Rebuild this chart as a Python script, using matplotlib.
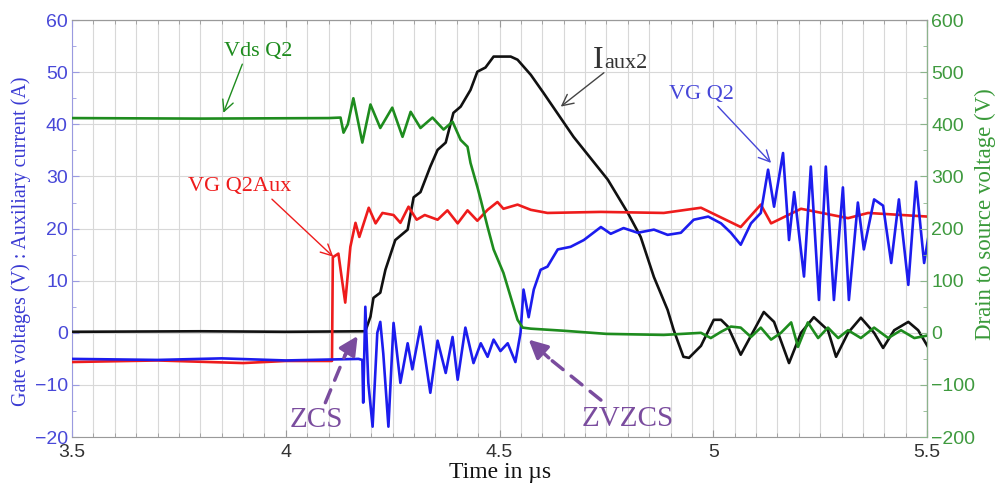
import matplotlib
matplotlib.use("Agg")
import matplotlib.pyplot as plt
from matplotlib.ticker import MultipleLocator

# ---------------- data ----------------
# Vds Q2 (right axis, V)
vds_t = [3.5, 3.8, 4.10, 4.128, 4.135, 4.145, 4.158, 4.179, 4.198, 4.221, 4.249, 4.273, 4.292,
         4.315, 4.343, 4.369, 4.390, 4.409, 4.425, 4.432, 4.448, 4.456, 4.472, 4.486, 4.509,
         4.542, 4.554, 4.573, 4.65, 4.75, 4.884, 4.971, 4.994, 5.018, 5.041, 5.064, 5.088, 5.111,
         5.135, 5.158, 5.182, 5.198, 5.221, 5.245, 5.268, 5.292, 5.315, 5.345, 5.376, 5.409,
         5.439, 5.470, 5.502]
vds_v = [412, 411, 412, 413, 384, 400, 450, 365, 438, 393, 432, 376, 424,
         393, 413, 390, 405, 370, 357, 326, 280, 255, 203, 160, 115,
         25, 10, 8, 4, -2, -4, 0, -10, 2, 12, 10, -8, 10,
         -13, 0, 20, -27, 20, -10, 10, -10, 5, -10, 10, -10,
         5, -10, -5]

# Iaux2 (left axis, A)
iaux_t = [3.5, 3.8, 4.0, 4.186, 4.198, 4.205, 4.221, 4.233, 4.256, 4.285, 4.299, 4.315, 4.338,
          4.355, 4.374, 4.392, 4.409, 4.432, 4.448, 4.467, 4.486, 4.526, 4.542, 4.573, 4.603,
          4.673, 4.753, 4.800, 4.830, 4.861, 4.893, 4.907, 4.930, 4.943, 4.971, 5.001, 5.018,
          5.034, 5.064, 5.095, 5.118, 5.142, 5.177, 5.205, 5.235, 5.268, 5.287, 5.315, 5.345,
          5.376, 5.397, 5.423, 5.456, 5.479, 5.502]
iaux_a = [0.2, 0.3, 0.2, 0.3, 3.1, 6.7, 7.7, 12.1, 17.8, 19.8, 26, 27, 31.9,
          35.1, 36.5, 42.2, 43.4, 46.6, 50.1, 50.9, 53, 53, 52.4, 49.5, 46,
          37.6, 29.4, 23, 18.4, 10.7, 4.4, 0.6, -4.6, -4.8, -2.5, 2.5, 2.5,
          1.2, -4.2, 0.5, 4, 2.1, -5.8, 0, 3, 0.5, -4.6, 0, 2.9,
          0, -2.9, 0.5, 2.1, 0.5, -2.7]

# VG Q2Aux (left axis, V)
vgaux_t = [3.5, 3.7, 3.9, 4.0, 4.108, 4.110, 4.123, 4.130, 4.139, 4.151, 4.163, 4.172, 4.194,
           4.210, 4.226, 4.252, 4.268, 4.287, 4.306, 4.325, 4.355, 4.378, 4.402, 4.425, 4.448,
           4.472, 4.495, 4.509, 4.542, 4.573, 4.612, 4.737, 4.884, 4.971, 5.064, 5.111, 5.135,
           5.205, 5.315, 5.362, 5.502]
vgaux_v = [-5.6, -5.3, -5.8, -5.4, -5.4, 14.5, 15.2, 11, 5.8, 16.5, 21.1, 18.4, 24,
           21, 23, 22.6, 21.1, 24.2, 21.7, 22.6, 21.7, 23.5, 21, 23.5, 21.5,
           23.6, 25.1, 23.8, 24.6, 23.6, 23, 23.2, 23, 24, 20.3, 24.6, 21,
           23.8, 22, 23, 22.3]

# VG Q2 (left axis, V)
vg_t = [3.5, 3.7, 3.85, 4.0, 4.17, 4.179, 4.181, 4.186, 4.193, 4.203, 4.214, 4.221, 4.228,
        4.240, 4.252, 4.268, 4.285, 4.296, 4.315, 4.338, 4.355, 4.374, 4.390, 4.402, 4.420,
        4.439, 4.456, 4.472, 4.486, 4.502, 4.519, 4.537, 4.549, 4.556, 4.568, 4.580, 4.596,
        4.612, 4.636, 4.666, 4.697, 4.737, 4.760, 4.790, 4.823, 4.861, 4.893, 4.924, 4.954,
        4.988, 5.018, 5.041, 5.064, 5.088, 5.111, 5.128, 5.142, 5.163, 5.177, 5.189, 5.212,
        5.228, 5.247, 5.263, 5.282, 5.303, 5.317, 5.338, 5.352, 5.376, 5.397, 5.416, 5.434,
        5.456, 5.474, 5.493, 5.502]
vg_v = [-5.0, -5.2, -4.9, -5.3, -5.0, -5.2, -13.4, 5, -9.6, -18, 0, 2.1, -4,
        -18, 1.9, -9.6, -2, -7, 1.2, -11.5, -1.5, -7.7, -0.8, -9, 1,
        -5.8, -2, -4.6, -1.3, -3.5, -2, -5.6, 0, 8.3, 3, 8.3, 12.1,
        12.7, 16, 16.5, 17.8, 20.3, 19, 20.1, 19.2, 19.8, 18.8, 19.2, 21.7,
        22.3, 21, 19.2, 16.9, 21, 23, 31.3, 24.2, 34.5, 17.8, 27, 10.8,
        31.9, 6.3, 31.9, 6.3, 27.9, 6.3, 25, 16, 25.6, 24.4, 13.4, 25.6,
        9.2, 29, 13.4, 18]

x_ticks = [3.5, 4, 4.5, 5, 5.5]
x_tick_labels = ["3.5", "4", "4.5", "5", "5.5"]

# ---------------- style ----------------
SERIF = ["Liberation Serif", "DejaVu Serif"]
SANS = ["Liberation Sans", "DejaVu Sans"]
C_GREEN = "#1e8c1e"
C_BLACK = "#111111"
C_RED = "#ee1c1c"
C_BLUE = "#1c1cee"
C_PURPLE = "#7a4c9e"

fig = plt.figure(figsize=(10.06, 4.90), dpi=100)
ax = fig.add_axes([0.0716, 0.108, 0.85, 0.851])
ax2 = ax.twinx()

ax.set_xlim(3.5, 5.5)
ax.set_ylim(-20, 60)
ax2.set_ylim(-200, 600)

ax.xaxis.set_minor_locator(MultipleLocator(0.05))
ax.yaxis.set_major_locator(MultipleLocator(10))
ax.yaxis.set_minor_locator(MultipleLocator(5))
ax2.yaxis.set_major_locator(MultipleLocator(100))
ax2.yaxis.set_minor_locator(MultipleLocator(50))
ax.set_xticks(x_ticks)
ax.set_xticklabels(x_tick_labels)
ax.grid(True, which="both", axis="x", color="#d8d8d8", lw=0.8)
ax.grid(True, which="major", axis="y", color="#d8d8d8", lw=0.8)
ax.set_axisbelow(True)

lw = 1.9
ax.plot(iaux_t, iaux_a, color=C_BLACK, lw=lw, zorder=3)
ax.plot(vgaux_t, vgaux_v, color=C_RED, lw=lw, zorder=4)
ax.plot(vg_t, vg_v, color=C_BLUE, lw=lw, zorder=5)
ax2.plot(vds_t, vds_v, color=C_GREEN, lw=lw, zorder=3)

ax.tick_params(axis="x", which="both", direction="in", top=True, bottom=True,
               colors="#9a9a9a", labelcolor="#333333", labelsize=14, pad=5)
ax.tick_params(axis="x", which="major", length=5)
ax.tick_params(axis="x", which="minor", length=3)
ax.tick_params(axis="y", which="both", direction="in", colors="#9a9ae0",
               labelcolor="#4848d8", labelsize=14, pad=3)
ax.tick_params(axis="y", which="major", length=5)
ax.tick_params(axis="y", which="minor", length=3)
ax2.tick_params(axis="y", which="both", direction="in", colors="#8cb48c",
                labelcolor="#3f9a3f", labelsize=14, pad=3)
ax2.tick_params(axis="y", which="major", length=5)
ax2.tick_params(axis="y", which="minor", length=3)
for lab in ax.get_xticklabels() + ax.get_yticklabels() + ax2.get_yticklabels():
    lab.set_fontfamily(SANS)

ax.spines["left"].set_color("#9a9ae0")
ax.spines["bottom"].set_color("#9a9a9a")
ax.spines["top"].set_color("#9a9a9a")
ax2.spines["right"].set_color("#8cb48c")
ax2.spines["left"].set_visible(False)
ax2.spines["top"].set_color("#9a9a9a")
ax2.spines["bottom"].set_visible(False)

ax.set_xlabel("Time in µs", fontsize=17, family=SERIF, color="#111111", labelpad=1)
ax.set_ylabel("Gate voltages (V) : Auxiliary current (A)", fontsize=14.5, family=SERIF,
              color="#3a3ad2")
ax.yaxis.set_label_coords(-0.048, 0.47)
ax2.set_ylabel("Drain to source voltage (V)", fontsize=16.5, family=SERIF,
               color="#3a9a3a")
ax2.yaxis.set_label_coords(1.056, 0.535)

arrow_thin = dict(arrowstyle="->", lw=1.0, mutation_scale=20, shrinkA=0, shrinkB=0)
ax.annotate("Vds Q2", xy=(3.854, 42.2), xytext=(3.936, 53.9), fontsize=16, family=SERIF,
            color=C_GREEN, ha="center", va="center",
            arrowprops=dict(arrow_thin, color=C_GREEN, relpos=(0.28, 0.0)), zorder=8)
ax.annotate("VG Q2Aux", xy=(4.111, 14.6), xytext=(3.893, 28.0), fontsize=16, family=SERIF,
            color=C_RED, ha="center", va="center",
            arrowprops=dict(arrow_thin, color=C_RED, relpos=(0.78, 0.0)), zorder=8)
ax.annotate("VG Q2", xy=(5.135, 32.6), xytext=(4.971, 45.8), fontsize=16, family=SERIF,
            color="#4646d8", ha="center", va="center",
            arrowprops=dict(arrow_thin, color="#4646d8", relpos=(0.72, 0.0)), zorder=8)
ax.annotate("", xy=(4.643, 43.4), xytext=(4.744, 49.9),
            arrowprops=dict(arrow_thin, color="#444444"), zorder=8)
ax.text(4.742, 50.9, "I", fontsize=23, family=SERIF, color="#333333", ha="right", va="baseline")
ax.text(4.745, 50.9, "aux2", fontsize=16, family=SERIF, color="#333333", ha="left", va="baseline")

ax.annotate("", xy=(4.140, -4.0), xytext=(4.0925, -13.4),
            arrowprops=dict(arrowstyle="-", lw=2.5, ls=(0, (4, 3)), color=C_PURPLE,
                            shrinkA=0, shrinkB=0), zorder=8)
ax.annotate("", xy=(4.168, -0.6), xytext=(4.138, -4.4),
            arrowprops=dict(arrowstyle="-|>", lw=2.5, color=C_PURPLE, mutation_scale=28,
                            shrinkA=0, shrinkB=0), zorder=8)
ax.text(4.071, -16.8, "ZCS", fontsize=21, family=SERIF, color=C_PURPLE, ha="center", va="center")

ax.annotate("", xy=(4.610, -4.5), xytext=(4.737, -12.9),
            arrowprops=dict(arrowstyle="-", lw=2.5, ls=(0, (4, 3)), color=C_PURPLE,
                            shrinkA=0, shrinkB=0), zorder=8)
ax.annotate("", xy=(4.568, -1.3), xytext=(4.615, -4.8),
            arrowprops=dict(arrowstyle="-|>", lw=2.5, color=C_PURPLE, mutation_scale=28,
                            shrinkA=0, shrinkB=0), zorder=8)
ax.text(4.800, -16.6, "ZVZCS", fontsize=21, family=SERIF, color=C_PURPLE, ha="center", va="center")

fig.savefig("out.png", dpi=100)
